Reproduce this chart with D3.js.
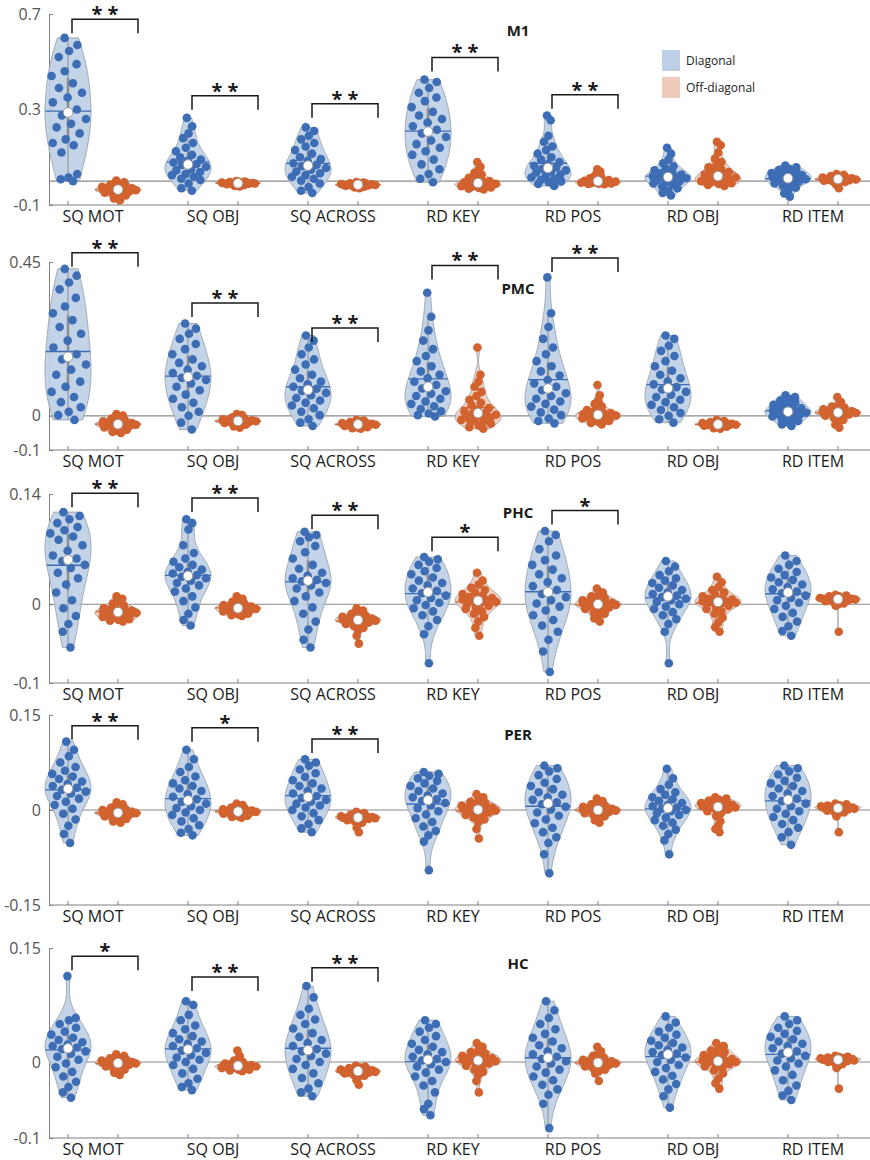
<!DOCTYPE html>
<html>
<head>
<meta charset="utf-8">
<script src="https://cdn.jsdelivr.net/npm/d3@7"></script>
<style>
  body { margin: 0; background: #fff; }
  text { font-family: "Open Sans", sans-serif; }
</style>
</head>
<body>
<div id="chart"></div>
<script>
// categories and conditions
const categories = ["SQ MOT", "SQ OBJ", "SQ ACROSS", "RD KEY", "RD POS", "RD OBJ", "RD ITEM"];
const conditions = ["Diagonal", "Off-diagonal"];
const regions = ["M1", "PMC", "PHC", "PER", "HC"];

// y ranges and tick labels per region
const yDomains = [[-0.1, 0.7], [-0.1, 0.45], [-0.1, 0.14], [-0.15, 0.15], [-0.1, 0.15]];
const yTicks = [[-0.1, 0.3, 0.7], [-0.1, 0, 0.45], [-0.1, 0, 0.14], [-0.15, 0, 0.15], [-0.1, 0, 0.15]];

// significance marks (diagonal vs off-diagonal) and bracket level per category
const sigStars = [
  ["**", "**", "**", "**", "**", "", ""],
  ["**", "**", "**", "**", "**", "", ""],
  ["**", "**", "**", "*", "*", "", ""],
  ["**", "*", "**", "", "", "", ""],
  ["*", "**", "**", "", "", "", ""]
];
const sigLevels = [
  [0.678, 0.358, 0.324, 0.518, 0.362],
  [0.477, 0.330, 0.257, 0.440, 0.462],
  [0.141, 0.135, 0.113, 0.085, 0.119],
  [0.133, 0.130, 0.112],
  [0.139, 0.112, 0.124]
];

// ---- M1 ----
const m1Diag = [
  [0.600,0.570,0.545,0.520,0.490,0.460,0.440,0.410,0.390,0.370,0.350,0.330,0.300,0.275,0.260,0.240,0.225,0.200,0.175,0.160,0.150,0.120,0.030,0.015,0.008,0.000],
  [0.265,0.230,0.200,0.180,0.160,0.140,0.125,0.110,0.100,0.090,0.085,0.078,0.072,0.068,0.060,0.050,0.045,0.038,0.030,0.025,0.018,0.010,0.005,-0.010,-0.030,-0.040],
  [0.225,0.210,0.190,0.175,0.160,0.145,0.130,0.115,0.100,0.092,0.085,0.075,0.068,0.062,0.055,0.048,0.040,0.033,0.025,0.018,0.010,0.002,-0.010,-0.025,-0.040,-0.050],
  [0.425,0.415,0.390,0.370,0.350,0.335,0.310,0.290,0.275,0.260,0.245,0.230,0.215,0.200,0.185,0.170,0.155,0.140,0.125,0.110,0.090,0.070,0.050,0.030,0.010,-0.005],
  [0.275,0.255,0.190,0.165,0.145,0.130,0.115,0.100,0.090,0.080,0.070,0.063,0.058,0.052,0.045,0.040,0.035,0.028,0.020,0.015,0.010,0.005,0.000,-0.005,-0.012,-0.020],
  [0.140,0.115,0.090,0.075,0.062,0.052,0.045,0.038,0.033,0.028,0.024,0.020,0.018,0.016,0.012,0.008,0.004,0.000,-0.005,-0.010,-0.015,-0.022,-0.030,-0.040,-0.050,-0.060],
  [0.065,0.058,0.052,0.046,0.042,0.038,0.034,0.030,0.027,0.024,0.020,0.016,0.013,0.011,0.008,0.005,0.002,-0.001,-0.005,-0.010,-0.014,-0.020,-0.028,-0.038,-0.052,-0.065]
];
const m1Off = [
  [0.002,-0.005,-0.010,-0.014,-0.018,-0.021,-0.024,-0.026,-0.028,-0.030,-0.032,-0.034,-0.035,-0.036,-0.038,-0.040,-0.042,-0.044,-0.046,-0.049,-0.052,-0.056,-0.060,-0.066,-0.073,-0.080],
  [0.000,-0.002,-0.003,-0.004,-0.005,-0.006,-0.006,-0.007,-0.007,-0.008,-0.008,-0.008,-0.009,-0.009,-0.010,-0.010,-0.011,-0.011,-0.012,-0.013,-0.014,-0.015,-0.016,-0.018,-0.020,-0.022],
  [-0.004,-0.006,-0.008,-0.009,-0.010,-0.011,-0.012,-0.012,-0.013,-0.013,-0.014,-0.014,-0.015,-0.015,-0.016,-0.016,-0.017,-0.018,-0.018,-0.019,-0.020,-0.021,-0.023,-0.025,-0.027,-0.030],
  [0.080,0.060,0.045,0.035,0.028,0.020,0.014,0.008,0.004,0.000,-0.003,-0.005,-0.007,-0.009,-0.011,-0.013,-0.015,-0.017,-0.019,-0.021,-0.023,-0.025,-0.027,-0.029,-0.032,-0.035],
  [0.050,0.040,0.032,0.025,0.020,0.015,0.012,0.009,0.006,0.004,0.002,0.001,0.000,-0.001,-0.002,-0.003,-0.004,-0.005,-0.006,-0.007,-0.008,-0.009,-0.010,-0.011,-0.012,-0.013],
  [0.165,0.150,0.120,0.095,0.080,0.068,0.058,0.050,0.044,0.038,0.033,0.028,0.023,0.019,0.015,0.012,0.009,0.006,0.003,0.000,-0.003,-0.006,-0.009,-0.012,-0.016,-0.020],
  [0.030,0.026,0.023,0.021,0.019,0.017,0.015,0.014,0.013,0.012,0.011,0.010,0.009,0.008,0.007,0.006,0.005,0.004,0.003,0.002,0.001,-0.001,-0.004,-0.008,-0.015,-0.030]
];

// ---- PMC ----
const pmcDiag = [
  [0.430,0.410,0.390,0.370,0.345,0.320,0.300,0.280,0.260,0.240,0.220,0.200,0.180,0.165,0.150,0.135,0.120,0.100,0.085,0.070,0.055,0.040,0.025,0.012,0.002,-0.012],
  [0.270,0.255,0.240,0.225,0.210,0.195,0.180,0.165,0.155,0.145,0.135,0.125,0.117,0.111,0.105,0.095,0.085,0.075,0.062,0.050,0.038,0.025,0.012,0.000,-0.020,-0.040],
  [0.235,0.220,0.200,0.180,0.165,0.150,0.135,0.120,0.110,0.100,0.092,0.085,0.079,0.073,0.067,0.060,0.052,0.045,0.038,0.030,0.022,0.012,0.002,-0.010,-0.020,-0.030],
  [0.360,0.290,0.250,0.220,0.195,0.175,0.160,0.145,0.130,0.120,0.110,0.100,0.090,0.080,0.072,0.065,0.058,0.050,0.042,0.035,0.028,0.020,0.013,0.007,0.002,-0.002],
  [0.405,0.300,0.260,0.225,0.200,0.180,0.160,0.145,0.130,0.118,0.105,0.095,0.085,0.075,0.066,0.058,0.050,0.042,0.035,0.027,0.018,0.010,0.002,-0.008,-0.015,-0.022],
  [0.235,0.225,0.205,0.190,0.175,0.160,0.145,0.132,0.120,0.110,0.100,0.092,0.084,0.077,0.070,0.062,0.055,0.047,0.040,0.032,0.025,0.017,0.008,0.000,-0.010,-0.020],
  [0.060,0.055,0.050,0.045,0.040,0.036,0.032,0.028,0.025,0.022,0.019,0.016,0.013,0.011,0.009,0.007,0.005,0.003,0.001,-0.002,-0.006,-0.010,-0.015,-0.020,-0.025,-0.030]
];
const pmcOff = [
  [0.005,0.001,-0.004,-0.008,-0.011,-0.014,-0.016,-0.018,-0.020,-0.021,-0.022,-0.023,-0.024,-0.025,-0.026,-0.027,-0.028,-0.030,-0.032,-0.034,-0.036,-0.038,-0.041,-0.044,-0.047,-0.050],
  [0.005,0.002,-0.002,-0.005,-0.007,-0.009,-0.010,-0.011,-0.012,-0.013,-0.014,-0.014,-0.015,-0.015,-0.016,-0.017,-0.018,-0.019,-0.020,-0.021,-0.022,-0.024,-0.026,-0.028,-0.031,-0.035],
  [-0.012,-0.014,-0.016,-0.018,-0.019,-0.020,-0.021,-0.022,-0.023,-0.023,-0.024,-0.024,-0.025,-0.025,-0.026,-0.026,-0.027,-0.028,-0.029,-0.030,-0.031,-0.032,-0.033,-0.035,-0.036,-0.038],
  [0.200,0.120,0.100,0.085,0.070,0.058,0.047,0.038,0.030,0.023,0.017,0.013,0.010,0.006,0.003,0.000,-0.003,-0.006,-0.009,-0.012,-0.015,-0.019,-0.023,-0.028,-0.033,-0.038],
  [0.090,0.060,0.045,0.035,0.028,0.022,0.017,0.013,0.010,0.008,0.006,0.005,0.004,0.002,0.001,0.000,-0.002,-0.004,-0.006,-0.008,-0.010,-0.012,-0.015,-0.018,-0.021,-0.025],
  [-0.012,-0.015,-0.017,-0.018,-0.019,-0.020,-0.021,-0.022,-0.022,-0.023,-0.024,-0.024,-0.025,-0.025,-0.026,-0.026,-0.027,-0.027,-0.028,-0.029,-0.030,-0.031,-0.032,-0.034,-0.036,-0.038],
  [0.055,0.040,0.032,0.027,0.024,0.021,0.019,0.017,0.015,0.013,0.012,0.011,0.010,0.009,0.008,0.007,0.006,0.004,0.002,0.000,-0.003,-0.007,-0.012,-0.018,-0.026,-0.035]
];

// ---- PHC ----
const phcDiag = [
  [0.117,0.112,0.108,0.103,0.098,0.094,0.090,0.086,0.082,0.075,0.068,0.062,0.058,0.055,0.050,0.046,0.040,0.033,0.025,0.015,0.005,-0.005,-0.015,-0.025,-0.035,-0.055],
  [0.108,0.103,0.095,0.075,0.065,0.058,0.054,0.050,0.047,0.044,0.041,0.039,0.037,0.035,0.033,0.030,0.027,0.024,0.020,0.016,0.010,0.004,-0.004,-0.012,-0.020,-0.027],
  [0.092,0.088,0.085,0.080,0.074,0.066,0.058,0.050,0.045,0.040,0.036,0.033,0.031,0.029,0.027,0.024,0.020,0.015,0.010,0.004,-0.004,-0.012,-0.022,-0.032,-0.045,-0.055],
  [0.060,0.057,0.054,0.050,0.046,0.042,0.038,0.034,0.030,0.027,0.024,0.020,0.017,0.014,0.011,0.008,0.005,0.002,-0.001,-0.005,-0.009,-0.014,-0.020,-0.028,-0.038,-0.075],
  [0.093,0.088,0.080,0.070,0.062,0.056,0.050,0.044,0.038,0.033,0.028,0.023,0.018,0.013,0.009,0.005,0.001,-0.003,-0.008,-0.014,-0.020,-0.027,-0.035,-0.045,-0.060,-0.086],
  [0.055,0.048,0.042,0.037,0.033,0.030,0.027,0.024,0.021,0.018,0.015,0.013,0.011,0.009,0.007,0.005,0.003,0.000,-0.003,-0.006,-0.010,-0.014,-0.019,-0.025,-0.035,-0.075],
  [0.062,0.055,0.050,0.045,0.041,0.037,0.034,0.031,0.028,0.025,0.022,0.019,0.016,0.014,0.011,0.008,0.005,0.002,-0.002,-0.006,-0.011,-0.016,-0.022,-0.028,-0.034,-0.040]
];
const phcOff = [
  [0.010,0.007,0.004,0.001,-0.002,-0.004,-0.005,-0.006,-0.007,-0.008,-0.009,-0.009,-0.010,-0.010,-0.011,-0.012,-0.013,-0.014,-0.015,-0.016,-0.017,-0.018,-0.019,-0.020,-0.021,-0.022],
  [0.010,0.007,0.005,0.003,0.001,0.000,-0.001,-0.002,-0.003,-0.003,-0.004,-0.004,-0.005,-0.005,-0.006,-0.006,-0.007,-0.008,-0.008,-0.009,-0.010,-0.011,-0.012,-0.013,-0.014,-0.015],
  [-0.005,-0.008,-0.010,-0.012,-0.014,-0.015,-0.016,-0.017,-0.018,-0.018,-0.019,-0.019,-0.020,-0.020,-0.021,-0.021,-0.022,-0.023,-0.024,-0.025,-0.026,-0.028,-0.030,-0.033,-0.040,-0.050],
  [0.040,0.030,0.025,0.021,0.018,0.015,0.013,0.011,0.009,0.008,0.007,0.006,0.005,0.004,0.003,0.002,0.000,-0.002,-0.004,-0.006,-0.009,-0.012,-0.016,-0.022,-0.030,-0.040],
  [0.020,0.015,0.012,0.010,0.008,0.006,0.005,0.004,0.003,0.002,0.001,0.001,0.000,0.000,-0.001,-0.002,-0.003,-0.004,-0.005,-0.006,-0.008,-0.010,-0.012,-0.015,-0.018,-0.022],
  [0.035,0.028,0.022,0.018,0.015,0.012,0.010,0.008,0.007,0.006,0.005,0.004,0.003,0.003,0.002,0.001,0.000,-0.002,-0.004,-0.006,-0.009,-0.012,-0.017,-0.023,-0.029,-0.035],
  [0.012,0.011,0.010,0.010,0.009,0.009,0.008,0.008,0.008,0.007,0.007,0.007,0.007,0.006,0.006,0.006,0.005,0.005,0.004,0.004,0.003,0.002,0.001,0.000,-0.002,-0.035]
];

// ---- PER ----
const perDiag = [
  [0.108,0.095,0.085,0.075,0.068,0.062,0.057,0.053,0.049,0.045,0.041,0.038,0.035,0.032,0.029,0.026,0.022,0.018,0.013,0.008,0.002,-0.006,-0.015,-0.025,-0.038,-0.052],
  [0.095,0.080,0.068,0.060,0.053,0.047,0.042,0.038,0.034,0.030,0.025,0.021,0.017,0.013,0.010,0.006,0.003,0.000,-0.004,-0.008,-0.013,-0.018,-0.024,-0.030,-0.036,-0.040],
  [0.080,0.075,0.070,0.064,0.058,0.052,0.047,0.042,0.038,0.034,0.030,0.026,0.022,0.019,0.016,0.013,0.010,0.007,0.004,0.000,-0.005,-0.010,-0.016,-0.022,-0.029,-0.035],
  [0.060,0.057,0.054,0.050,0.046,0.042,0.038,0.034,0.030,0.026,0.023,0.020,0.017,0.014,0.011,0.007,0.003,-0.002,-0.007,-0.013,-0.019,-0.026,-0.033,-0.040,-0.050,-0.095],
  [0.070,0.066,0.061,0.055,0.049,0.043,0.038,0.033,0.028,0.024,0.020,0.016,0.012,0.009,0.005,0.001,-0.004,-0.009,-0.015,-0.021,-0.028,-0.035,-0.043,-0.052,-0.070,-0.100],
  [0.065,0.050,0.040,0.033,0.028,0.024,0.020,0.017,0.014,0.011,0.008,0.006,0.004,0.002,0.000,-0.002,-0.005,-0.008,-0.012,-0.016,-0.020,-0.025,-0.031,-0.038,-0.048,-0.070],
  [0.070,0.066,0.061,0.056,0.051,0.046,0.042,0.038,0.034,0.030,0.026,0.022,0.018,0.014,0.010,0.006,0.002,-0.002,-0.006,-0.011,-0.016,-0.022,-0.028,-0.035,-0.043,-0.055]
];
const perOff = [
  [0.012,0.009,0.006,0.004,0.002,0.001,0.000,-0.001,-0.002,-0.003,-0.003,-0.004,-0.004,-0.005,-0.005,-0.006,-0.007,-0.008,-0.009,-0.010,-0.011,-0.012,-0.014,-0.016,-0.018,-0.020],
  [0.010,0.008,0.006,0.004,0.003,0.002,0.001,0.000,0.000,-0.001,-0.001,-0.002,-0.002,-0.003,-0.003,-0.004,-0.004,-0.005,-0.005,-0.006,-0.007,-0.008,-0.009,-0.010,-0.011,-0.012],
  [-0.003,-0.005,-0.006,-0.007,-0.008,-0.009,-0.010,-0.010,-0.011,-0.011,-0.011,-0.012,-0.012,-0.012,-0.013,-0.013,-0.014,-0.014,-0.015,-0.016,-0.017,-0.018,-0.020,-0.023,-0.028,-0.035],
  [0.025,0.020,0.016,0.013,0.011,0.009,0.007,0.006,0.005,0.004,0.003,0.002,0.001,0.000,-0.001,-0.002,-0.003,-0.004,-0.006,-0.008,-0.010,-0.012,-0.015,-0.019,-0.030,-0.045],
  [0.018,0.014,0.011,0.009,0.007,0.006,0.005,0.004,0.003,0.002,0.001,0.001,0.000,0.000,-0.001,-0.001,-0.002,-0.003,-0.004,-0.005,-0.006,-0.008,-0.010,-0.012,-0.016,-0.020],
  [0.020,0.018,0.016,0.015,0.013,0.012,0.011,0.010,0.009,0.008,0.007,0.006,0.005,0.005,0.004,0.003,0.002,0.001,0.000,-0.002,-0.005,-0.010,-0.018,-0.025,-0.030,-0.035],
  [0.010,0.009,0.008,0.007,0.007,0.006,0.006,0.005,0.005,0.004,0.004,0.004,0.003,0.003,0.002,0.002,0.001,0.001,0.000,-0.001,-0.002,-0.003,-0.004,-0.006,-0.010,-0.035]
];

// ---- HC ----
const hcDiag = [
  [0.113,0.058,0.055,0.050,0.045,0.040,0.036,0.032,0.029,0.026,0.023,0.021,0.019,0.017,0.014,0.011,0.007,0.003,-0.002,-0.007,-0.013,-0.019,-0.026,-0.033,-0.040,-0.047],
  [0.080,0.075,0.062,0.055,0.048,0.043,0.038,0.034,0.030,0.027,0.024,0.021,0.018,0.015,0.012,0.009,0.006,0.003,0.000,-0.004,-0.009,-0.015,-0.022,-0.028,-0.033,-0.037],
  [0.100,0.085,0.070,0.062,0.056,0.050,0.044,0.038,0.033,0.029,0.025,0.021,0.017,0.014,0.011,0.008,0.004,0.000,-0.004,-0.009,-0.015,-0.021,-0.028,-0.035,-0.040,-0.045],
  [0.055,0.050,0.045,0.040,0.034,0.029,0.024,0.020,0.016,0.013,0.010,0.007,0.004,0.002,0.000,-0.003,-0.006,-0.010,-0.014,-0.019,-0.025,-0.031,-0.040,-0.055,-0.062,-0.070],
  [0.080,0.068,0.058,0.050,0.043,0.037,0.032,0.027,0.022,0.018,0.014,0.010,0.007,0.004,0.001,-0.002,-0.006,-0.010,-0.014,-0.019,-0.024,-0.030,-0.036,-0.043,-0.055,-0.087],
  [0.060,0.052,0.045,0.040,0.036,0.032,0.028,0.025,0.022,0.019,0.016,0.013,0.011,0.009,0.006,0.003,0.000,-0.004,-0.008,-0.013,-0.018,-0.023,-0.029,-0.036,-0.045,-0.060],
  [0.060,0.055,0.050,0.045,0.041,0.037,0.033,0.030,0.027,0.024,0.021,0.018,0.014,0.011,0.008,0.005,0.002,-0.002,-0.006,-0.011,-0.017,-0.024,-0.031,-0.038,-0.044,-0.050]
];
const hcOff = [
  [0.010,0.008,0.006,0.005,0.004,0.003,0.002,0.001,0.001,0.000,0.000,-0.001,-0.001,-0.002,-0.002,-0.003,-0.003,-0.004,-0.005,-0.006,-0.007,-0.008,-0.010,-0.012,-0.014,-0.017],
  [0.015,0.008,0.004,0.002,0.000,-0.001,-0.002,-0.003,-0.003,-0.004,-0.004,-0.005,-0.005,-0.005,-0.006,-0.006,-0.007,-0.007,-0.008,-0.008,-0.009,-0.009,-0.010,-0.010,-0.011,-0.012],
  [-0.005,-0.006,-0.007,-0.008,-0.009,-0.009,-0.010,-0.010,-0.011,-0.011,-0.011,-0.012,-0.012,-0.012,-0.013,-0.013,-0.014,-0.014,-0.015,-0.015,-0.016,-0.017,-0.018,-0.020,-0.024,-0.030],
  [0.025,0.020,0.016,0.013,0.011,0.009,0.008,0.007,0.006,0.005,0.004,0.003,0.002,0.002,0.001,0.000,-0.001,-0.002,-0.003,-0.005,-0.007,-0.010,-0.013,-0.017,-0.025,-0.040],
  [0.020,0.014,0.010,0.008,0.006,0.004,0.003,0.002,0.001,0.001,0.000,0.000,-0.001,-0.001,-0.002,-0.002,-0.003,-0.004,-0.005,-0.006,-0.007,-0.008,-0.010,-0.012,-0.015,-0.025],
  [0.025,0.021,0.018,0.015,0.013,0.011,0.009,0.007,0.005,0.004,0.003,0.002,0.001,0.001,0.000,-0.001,-0.002,-0.003,-0.004,-0.006,-0.008,-0.011,-0.015,-0.022,-0.028,-0.035],
  [0.008,0.007,0.007,0.006,0.006,0.005,0.005,0.005,0.004,0.004,0.004,0.003,0.003,0.003,0.002,0.002,0.002,0.001,0.001,0.000,-0.001,-0.002,-0.003,-0.005,-0.008,-0.035]
];

const diagData = [m1Diag, pmcDiag, phcDiag, perDiag, hcDiag];
const offData = [m1Off, pmcOff, phcOff, perOff, hcOff];

// Declare the chart dimensions.
const width = 870;
const height = 1160;
const axisLeft = 49;
const axisRight = 870;
const panelTops = [14, 262, 494, 715, 948];
const panelBottoms = [205, 450, 683, 905, 1138];
const titleY = [36, 294, 518, 740, 969];
const halfWidth = 23;

const colors = {
  "Diagonal": {dot: "#3d6db5", fill: "#bccfe6"},
  "Off-diagonal": {dot: "#d2622e", fill: "#eecabb"}
};

const x0 = d3.scaleBand().domain(categories).range([33, 873]);
const x1 = d3.scaleBand().domain(conditions).range([10, 110]);
const xPos = (cat, cond) => x0(cat) + x1(cond) + x1.bandwidth() / 2;

const svg = d3.select("#chart").append("svg")
  .attr("width", width)
  .attr("height", height)
  .attr("viewBox", [0, 0, width, height]);

// kernel density like matlab ksdensity, evaluated between min and max
function violinShape(values) {
  const n = values.length;
  const med = d3.median(values);
  let sig = d3.median(values, v => Math.abs(v - med)) / 0.6745;
  if (!sig) sig = d3.deviation(values) || 0.001;
  const bw = sig * Math.pow(4 / (3 * n), 0.2);
  const [lo, hi] = d3.extent(values);
  const grid = d3.range(100).map(i => lo + (hi - lo) * i / 99);
  const dens = grid.map(g => d3.sum(values, v => Math.exp(-0.5 * ((g - v) / bw) ** 2)));
  const maxD = d3.max(dens);
  return grid.map((g, i) => ({v: g, w: dens[i] / maxD}));
}

function widthAt(shape, v) {
  const i = d3.bisector(d => d.v).left(shape, v);
  if (i <= 0) return shape[0].w;
  if (i >= shape.length) return shape[shape.length - 1].w;
  const a = shape[i - 1], b = shape[i];
  const t = (v - a.v) / (b.v - a.v || 1);
  return a.w + (b.w - a.w) * t;
}

function drawViolin(g, y, values, cx, cond) {
  const col = colors[cond];
  const shape = violinShape(values);
  const sorted = values.slice().sort(d3.ascending);
  const q1 = d3.quantile(sorted, 0.25), q3 = d3.quantile(sorted, 0.75);
  const iqr = q3 - q1;
  const lowW = d3.min(sorted.filter(v => v >= q1 - 1.5 * iqr));
  const highW = d3.max(sorted.filter(v => v <= q3 + 1.5 * iqr));
  const med = d3.median(values);
  const mean = d3.mean(values);

  g.append("path")
    .datum(shape)
    .attr("d", d3.area()
      .x0(d => cx - d.w * halfWidth)
      .x1(d => cx + d.w * halfWidth)
      .y(d => y(d.v)))
    .attr("fill", col.fill)
    .attr("fill-opacity", 0.9)
    .attr("stroke", "#9aa0a8")
    .attr("stroke-width", 0.9);

  // whisker and box
  g.append("line")
    .attr("x1", cx).attr("x2", cx)
    .attr("y1", y(lowW)).attr("y2", y(highW))
    .attr("stroke", "#8c8c8c").attr("stroke-width", 1);
  g.append("line")
    .attr("x1", cx).attr("x2", cx)
    .attr("y1", y(q1)).attr("y2", y(q3))
    .attr("stroke", "#8c8c8c").attr("stroke-width", 2.5);

  // mean line
  const mw = widthAt(shape, mean) * halfWidth;
  g.append("line")
    .attr("x1", cx - mw).attr("x2", cx + mw)
    .attr("y1", y(mean)).attr("y2", y(mean))
    .attr("stroke", col.dot).attr("stroke-width", 1.3);

  // points, spread inside the violin width
  g.append("g")
    .selectAll("circle")
    .data(values)
    .join("circle")
      .attr("cx", (d, i) => cx + (((i * 0.618034 + 0.31) % 1) * 2 - 1) * 0.85 * widthAt(shape, d) * halfWidth)
      .attr("cy", d => y(d))
      .attr("r", 4.3)
      .attr("fill", col.dot);

  // median
  g.append("circle")
    .attr("cx", cx).attr("cy", y(med))
    .attr("r", 4.8)
    .attr("fill", "#fff")
    .attr("stroke", "#9a9a9a")
    .attr("stroke-width", 1);
}

regions.forEach((region, pi) => {
  const y = d3.scaleLinear()
    .domain(yDomains[pi])
    .range([panelBottoms[pi], panelTops[pi]]);
  const g = svg.append("g");

  // zero line
  g.append("line")
    .attr("x1", axisLeft).attr("x2", axisRight)
    .attr("y1", y(0)).attr("y2", y(0))
    .attr("stroke", "#8a8a8a").attr("stroke-width", 1.2);

  // y axis
  g.append("g")
    .attr("transform", `translate(${axisLeft},0)`)
    .call(d3.axisLeft(y).tickValues(yTicks[pi]).tickSize(-4).tickPadding(8).tickFormat(d => String(d)))
    .call(a => a.select(".domain").attr("stroke", "#808080"))
    .call(a => a.selectAll(".tick line").attr("stroke", "#808080"))
    .call(a => a.selectAll(".tick text")
      .attr("fill", "#555").attr("font-size", 16).attr("font-family", "Open Sans, sans-serif"));

  // x axis line with ticks at every violin
  const xb = g.append("g").attr("transform", `translate(0,${panelBottoms[pi]})`);
  xb.append("line")
    .attr("x1", axisLeft).attr("x2", axisRight)
    .attr("stroke", "#808080").attr("stroke-width", 1.2);
  categories.forEach(cat => conditions.forEach(cond => {
    xb.append("line")
      .attr("x1", xPos(cat, cond)).attr("x2", xPos(cat, cond))
      .attr("y1", 0).attr("y2", -4)
      .attr("stroke", "#808080");
  }));
  xb.selectAll("text.cat")
    .data(categories)
    .join("text")
      .attr("class", "cat")
      .attr("x", d => x0(d) + x0.bandwidth() / 2)
      .attr("y", 16.5)
      .attr("text-anchor", "middle")
      .attr("font-size", 16)
      .attr("fill", "#1a1a1a")
      .text(d => d);

  // violins
  categories.forEach((cat, ci) => {
    drawViolin(g, y, diagData[pi][ci], xPos(cat, "Diagonal"), "Diagonal");
    drawViolin(g, y, offData[pi][ci], xPos(cat, "Off-diagonal"), "Off-diagonal");
  });

  // significance brackets
  sigStars[pi].forEach((s, ci) => {
    if (!s) return;
    const cat = categories[ci];
    const xa = xPos(cat, "Diagonal") + 4;
    const xbR = xPos(cat, "Off-diagonal") + 20;
    const yl = y(sigLevels[pi][ci]);
    g.append("path")
      .attr("d", `M${xa},${yl + 14}V${yl}H${xbR}V${yl + 14}`)
      .attr("fill", "none")
      .attr("stroke", "#1a1a1a")
      .attr("stroke-width", 1.5);
    g.append("text")
      .attr("x", (xa + xbR) / 2)
      .attr("y", yl + 2)
      .attr("text-anchor", "middle")
      .attr("font-family", "Liberation Sans, Arial, sans-serif")
      .attr("font-size", 20)
      .attr("font-weight", "bold")
      .attr("fill", "#1a1a1a")
      .text(s === "**" ? "* *" : "*");
  });

  // title
  g.append("text")
    .attr("x", 518)
    .attr("y", titleY[pi])
    .attr("text-anchor", "middle")
    .attr("font-size", 15)
    .attr("font-weight", "bold")
    .attr("fill", "#1a1a1a")
    .text(region);
});

// legend
const legend = svg.append("g").attr("transform", "translate(662,50)");
conditions.forEach((cond, i) => {
  legend.append("rect")
    .attr("x", 0).attr("y", i * 27)
    .attr("width", 18).attr("height", 21)
    .attr("fill", colors[cond].fill);
  legend.append("text")
    .attr("x", 24).attr("y", i * 27 + 15)
    .attr("font-size", 12)
    .attr("fill", "#222")
    .text(cond);
});
</script>
</body>
</html>
